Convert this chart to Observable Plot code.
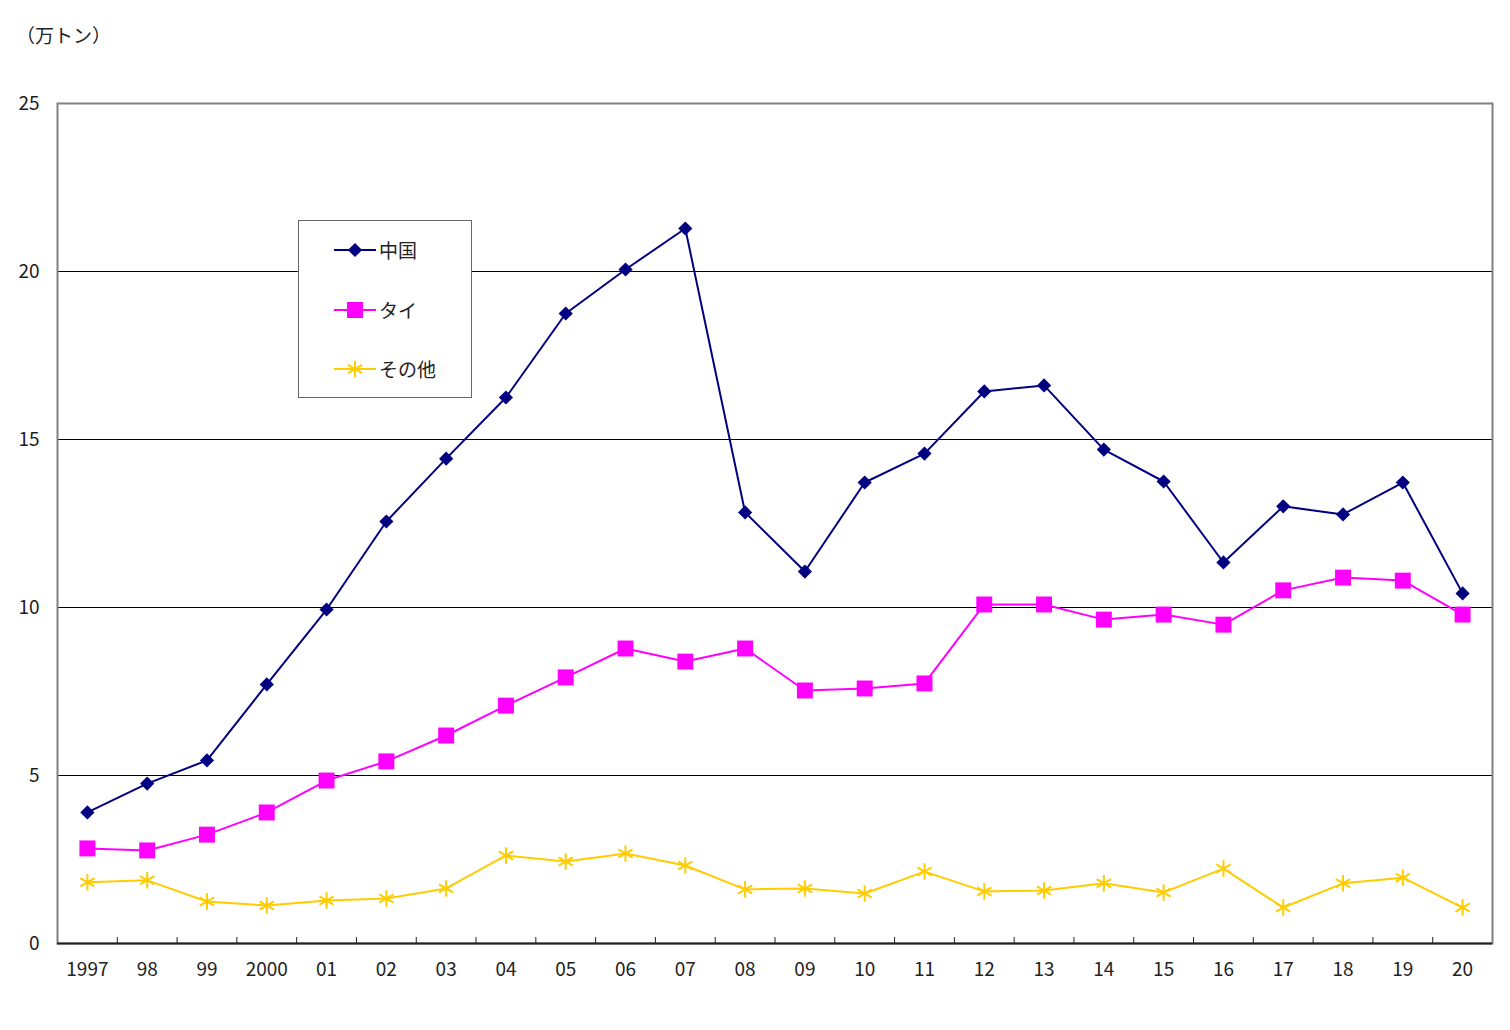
<!DOCTYPE html>
<html><head><meta charset="utf-8">
<script src="https://cdn.jsdelivr.net/npm/d3@7"></script>
<script src="https://cdn.jsdelivr.net/npm/@observablehq/plot@0.6"></script>
<style>
body{margin:0;background:#fff;font-family:"Noto Sans CJK JP","DejaVu Sans",sans-serif;}
#wrap{position:relative;width:1510px;height:1030px;}
#unit{position:absolute;left:16px;top:21px;font-size:19px;color:#222;}
#legend{position:absolute;left:298px;top:220px;width:172px;height:176px;border:1.5px solid #666;background:#fff;}
.li{position:absolute;left:35px;display:flex;align-items:center;font-size:19px;color:#222;}
.li svg{margin-right:3px;}
</style></head>
<body><div id="wrap"><div id="unit">（万トン）</div><div id="chart"></div>
<div id="legend"></div></div>
<script>
const years = [1997,1998,1999,2000,2001,2002,2003,2004,2005,2006,2007,2008,2009,2010,2011,2012,2013,2014,2015,2016,2017,2018,2019,2020];
const yearLabels = ["1997","98","99","2000","01","02","03","04","05","06","07","08","09","10","11","12","13","14","15","16","17","18","19","20"];
const china = [3.9,4.76,5.45,7.71,9.94,12.56,14.43,16.25,18.75,20.06,21.28,12.83,11.07,13.72,14.58,16.43,16.61,14.70,13.75,11.34,13.01,12.77,13.72,10.42];
const thai  = [2.83,2.77,3.24,3.90,4.85,5.42,6.19,7.08,7.92,8.78,8.39,8.78,7.53,7.59,7.74,10.09,10.09,9.64,9.79,9.49,10.51,10.89,10.80,9.79];
const other = [1.82,1.88,1.25,1.13,1.28,1.34,1.64,2.62,2.44,2.68,2.32,1.61,1.64,1.49,2.14,1.55,1.58,1.79,1.52,2.23,1.07,1.79,1.96,1.07];
const seriesNames = ["中国","タイ","その他"];
const yTicks = [0,5,10,15,20,25];

const series = [
  {name: seriesNames[0], values: china, color: "#000080", symbol: "diamond2", r: 6.4, fill: true},
  {name: seriesNames[1], values: thai, color: "#FF00FF", symbol: "square", r: 9, fill: true},
  {name: seriesNames[2], values: other, color: "#FFCC00", symbol: "asterisk", r: 7.8, fill: false}
];
const edges = years.slice(0, -1).map(y => y + 0.5);

const marks = [
  Plot.ruleY([5,10,15,20], {stroke: "#000", strokeWidth: 1}),
  Plot.frame({stroke: "#808080", strokeWidth: 2}),
  Plot.ruleY([0], {stroke: "#222", strokeWidth: 2}),
  Plot.axisY({ticks: yTicks, tickSize: 0, tickPadding: 18, fontSize: 19, fill: "#222", label: null}),
  Plot.axisX({ticks: years, tickSize: 0, tickPadding: 19, fontSize: 19, fill: "#222", label: null,
    tickFormat: d => yearLabels[years.indexOf(d)]}),
  Plot.axisX({ticks: edges, tickSize: -6, tickFormat: () => "", stroke: "#222", label: null})
];
for (const s of series) {
  const data = years.map((y, i) => ({year: y, value: s.values[i]}));
  marks.push(Plot.line(data, {x: "year", y: "value", stroke: s.color, strokeWidth: 2}));
  marks.push(Plot.dot(data, {x: "year", y: "value", symbol: s.symbol, r: s.r,
    fill: s.fill ? s.color : "none", stroke: s.color, strokeWidth: s.fill ? 0 : 2}));
}

const chart = Plot.plot({
  width: 1510, height: 1000,
  marginLeft: 57, marginRight: 18, marginTop: 103, marginBottom: 57,
  x: {domain: [1996.5, 2020.5]},
  y: {domain: [0, 25]},
  style: {fontFamily: '"Noto Sans CJK JP","DejaVu Sans",sans-serif', background: "#fff"},
  marks
});
document.getElementById("chart").appendChild(chart);

// legend
const legend = document.getElementById("legend");
const tops = [15, 75, 134];
series.forEach((s, i) => {
  const div = document.createElement("div");
  div.className = "li";
  div.style.top = tops[i] + "px";
  const sym = d3.symbol(s.symbol === "diamond2" ? d3.symbolDiamond2 : s.symbol === "square" ? d3.symbolSquare : d3.symbolAsterisk,
    Math.PI * s.r * s.r)();
  div.innerHTML = `<svg width="42" height="24"><line x1="0" x2="42" y1="12" y2="12" stroke="${s.color}" stroke-width="2"/>
  <path transform="translate(21,12)" d="${sym}" fill="${s.fill ? s.color : 'none'}" stroke="${s.color}" stroke-width="${s.fill ? 0 : 2}"/></svg><span>${s.name}</span>`;
  legend.appendChild(div);
});
</script></body></html>
